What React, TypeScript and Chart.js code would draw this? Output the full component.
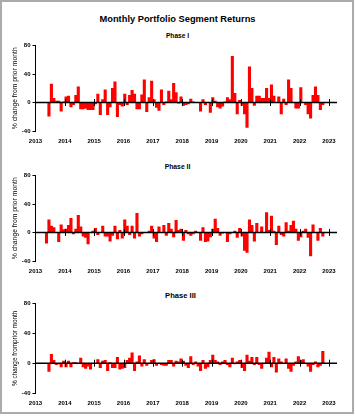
import React, { useEffect, useRef } from "react";
import { Chart, registerables } from "chart.js";

Chart.register(...registerables);

// Month index 0 = Jan 2013 ... 119 = Dec 2022
const YEAR_LABELS = ["2013", "2014", "2015", "2016", "2017", "2018", "2019", "2020", "2021", "2022", "2023"];
const Y_TICKS = [-40, 0, 40, 80];

const PHASE_I: (number | null)[] = [
  null, null, null, null, null, -19, 26, 6, 2, 2, -12, 1,
  8, 9, -6, -3, 10, 22, -9, -9, -8, -10, -10, -10,
  -2, 12, -17, 4, 18, -17, -6, 20, 29, -20, -3, -5,
  12, -3, 10, 17, 12, -9, -9, 11, 32, -13, 7, 30,
  4, -7, -11, 18, -3, 1, 16, 4, 27, 14, -1, 8,
  -4, -3, -2, 5, 1, null, null, -12, 4, -3, null, -14,
  7, 2, -6, -8, -5, 1, 7, 4, 65, 13, -16, 3,
  -4, -16, -35, 50, 20, -4, 9, 9, 6, 6, 20, 6,
  25, 9, null, 8, -16, 5, -3, 32, 20, null, -8, -8,
  21, null, -3, -16, -22, 10, 22, 10, -10, -3, null, null,
];

const PHASE_II: (number | null)[] = [
  null, null, null, null, -15, 18, 9, 7, null, -13, 11, 4,
  5, 10, 20, -2, 5, 24, 8, -5, -7, -16, null, 2,
  6, -3, null, 9, -5, -5, -12, -4, 9, -9, 3, -8,
  18, 9, -3, 9, -8, 27, -5, -2, null, null, 2, 9,
  -8, -13, 8, null, 10, -4, 13, 5, -6, 17, 3, 5,
  -11, 3, -2, -4, -2, 2, null, -11, 7, -13, -12, -6,
  5, 19, 6, -4, -1, null, -13, -2, null, 2, -7, 6,
  -5, -25, -28, 18, 10, -12, 13, null, 8, null, 28, 3,
  23, 2, -17, 9, -3, -5, 14, 2, 10, 16, 5, -11,
  -6, 2, 5, -7, -33, 11, null, -11, 6, -5, null, null,
];

const PHASE_III: (number | null)[] = [
  null, null, null, null, null, -11, 12, 4, -2, -1, -5, 3,
  -5, 3, -5, 1, 1, null, 7, -5, -7, -4, -8, null,
  null, 5, -6, 3, 4, -10, 1, -6, -6, 8, -8, -7,
  -6, 4, 7, 14, -10, 2, 10, -4, 5, -3, null, 4,
  5, -3, null, -2, -3, -3, 4, 4, -4, 3, 2, 6,
  3, -3, -6, 9, -2, 2, -4, -10, 4, -7, -5, 4,
  11, 4, 2, -2, 2, 4, -2, -5, 7, -1, 2, 4,
  -6, -10, 11, 3, 8, -2, 8, -2, -7, null, 7, 15,
  -5, 8, -12, 6, 2, null, 6, -7, -11, -3, 2, 9,
  4, 5, null, -4, -11, -2, 2, -5, -3, 16, null, null,
];

const FONT = "'Liberation Sans', Arial, Helvetica, sans-serif";

const zeroLinePlugin = {
  id: "zeroLine",
  afterDatasetsDraw(chart: any) {
    const { ctx, chartArea, scales } = chart;
    const x = scales.x;
    const y = scales.y;
    const y0 = y.getPixelForValue(0);
    ctx.save();
    ctx.strokeStyle = "#000";
    ctx.lineWidth = 1.5;
    ctx.beginPath();
    ctx.moveTo(chartArea.left, y0);
    ctx.lineTo(chartArea.right, y0);
    ctx.stroke();
    ctx.lineWidth = 1;
    ctx.beginPath();
    for (let i = 1; i < YEAR_LABELS.length; i++) {
      const px = Math.round(x.getPixelForValue(i * 12)) + 0.5;
      ctx.moveTo(px, y0 - 3.5);
      ctx.lineTo(px, y0 + 3.5);
    }
    ctx.stroke();
    ctx.restore();
  },
};

type PanelProps = {
  values: (number | null)[];
  axisTitle: string;
  axisTitleSize: number;
  top: number;
  height: number;
};

function Panel({ values, axisTitle, axisTitleSize, top, height }: PanelProps) {
  const ref = useRef<HTMLCanvasElement | null>(null);
  useEffect(() => {
    if (!ref.current) return;
    const points = values
      .map((v, i) => (v === null ? null : { x: i + 0.5, y: v }))
      .filter((p) => p !== null);
    const chart = new Chart(ref.current, {
      type: "bar",
      data: {
        datasets: [
          {
            data: points as any,
            backgroundColor: "#ff0000",
            borderWidth: 0,
            barPercentage: 1,
            categoryPercentage: 1,
          },
        ],
      },
      options: {
        animation: false,
        responsive: false,
        maintainAspectRatio: false,
        layout: { padding: { left: 0, right: 18, top: 4, bottom: 0 } },
        plugins: {
          legend: { display: false },
          tooltip: { enabled: false },
          title: { display: false },
        },
        scales: {
          x: {
            type: "linear",
            min: 0,
            max: 123.3,
            offset: false,
            grid: { display: false, drawTicks: false },
            border: { display: false },
            afterBuildTicks: (s: any) => {
              s.ticks = YEAR_LABELS.map((_, i) => ({ value: i * 12 }));
            },
            afterFit: (s: any) => {
              s.height = 16;
            },
            ticks: {
              autoSkip: false,
              maxRotation: 0,
              padding: 7,
              color: "#000",
              font: { family: FONT, size: 6, weight: "bold" },
              callback: (_v: any, i: number) => YEAR_LABELS[i],
            },
          },
          y: {
            type: "linear",
            min: -40,
            max: 80,
            afterBuildTicks: (s: any) => {
              s.ticks = Y_TICKS.map((v) => ({ value: v }));
            },
            afterFit: (s: any) => {
              s.width = 35.5;
            },
            grid: { drawOnChartArea: false, tickLength: 3, color: "#000", lineWidth: 1 },
            border: { display: true, color: "#000", width: 1 },
            ticks: {
              padding: 2,
              color: "#000",
              font: { family: FONT, size: 6, weight: "bold" },
              callback: (v: any) => String(v),
            },
            title: {
              display: true,
              text: axisTitle,
              color: "#000",
              font: { family: FONT, size: axisTitleSize },
              padding: { top: 11.5, bottom: 0 },
            },
          },
        },
      } as any,
      plugins: [zeroLinePlugin],
    });
    return () => chart.destroy();
  }, [values, axisTitle, axisTitleSize]);

  return (
    <canvas
      ref={ref}
      width={355}
      height={height}
      style={{ position: "absolute", left: 0, top, width: 355, height, display: "block" }}
    />
  );
}

const textStyle = (top: number, size: number, lh: number): React.CSSProperties => ({
  position: "absolute",
  left: 0,
  top,
  width: 355,
  textAlign: "center",
  fontFamily: FONT,
  fontWeight: "bold",
  fontSize: size,
  lineHeight: `${lh}px`,
  color: "#000",
  whiteSpace: "nowrap",
});

export default function App() {
  return (
    <div
      style={{
        position: "absolute",
        left: 0,
        top: 0,
        width: 355,
        height: 416,
        background: "#fff",
        overflow: "hidden",
      }}
    >
      <div
        style={{
          position: "absolute",
          left: 0,
          top: 0,
          width: 354,
          height: 414,
          boxSizing: "border-box",
          border: "2px solid #ababab",
        }}
      />
      <div style={textStyle(13, 9.3, 12)}>Monthly Portfolio Segment Returns</div>
      <div style={textStyle(31, 6.6, 10)}>Phase I</div>
      <div style={textStyle(162, 6.8, 10)}>Phase II</div>
      <div style={{ ...textStyle(290, 7.6, 11), left: 3 }}>Phase III</div>
      <Panel values={PHASE_I} axisTitle="% change from prior month" axisTitleSize={6.8} top={40} height={107} />
      <Panel values={PHASE_II} axisTitle="% change from prior month" axisTitleSize={6.8} top={170} height={107} />
      <Panel values={PHASE_III} axisTitle="% change fromprior month" axisTitleSize={6.4} top={298} height={111} />
    </div>
  );
}
